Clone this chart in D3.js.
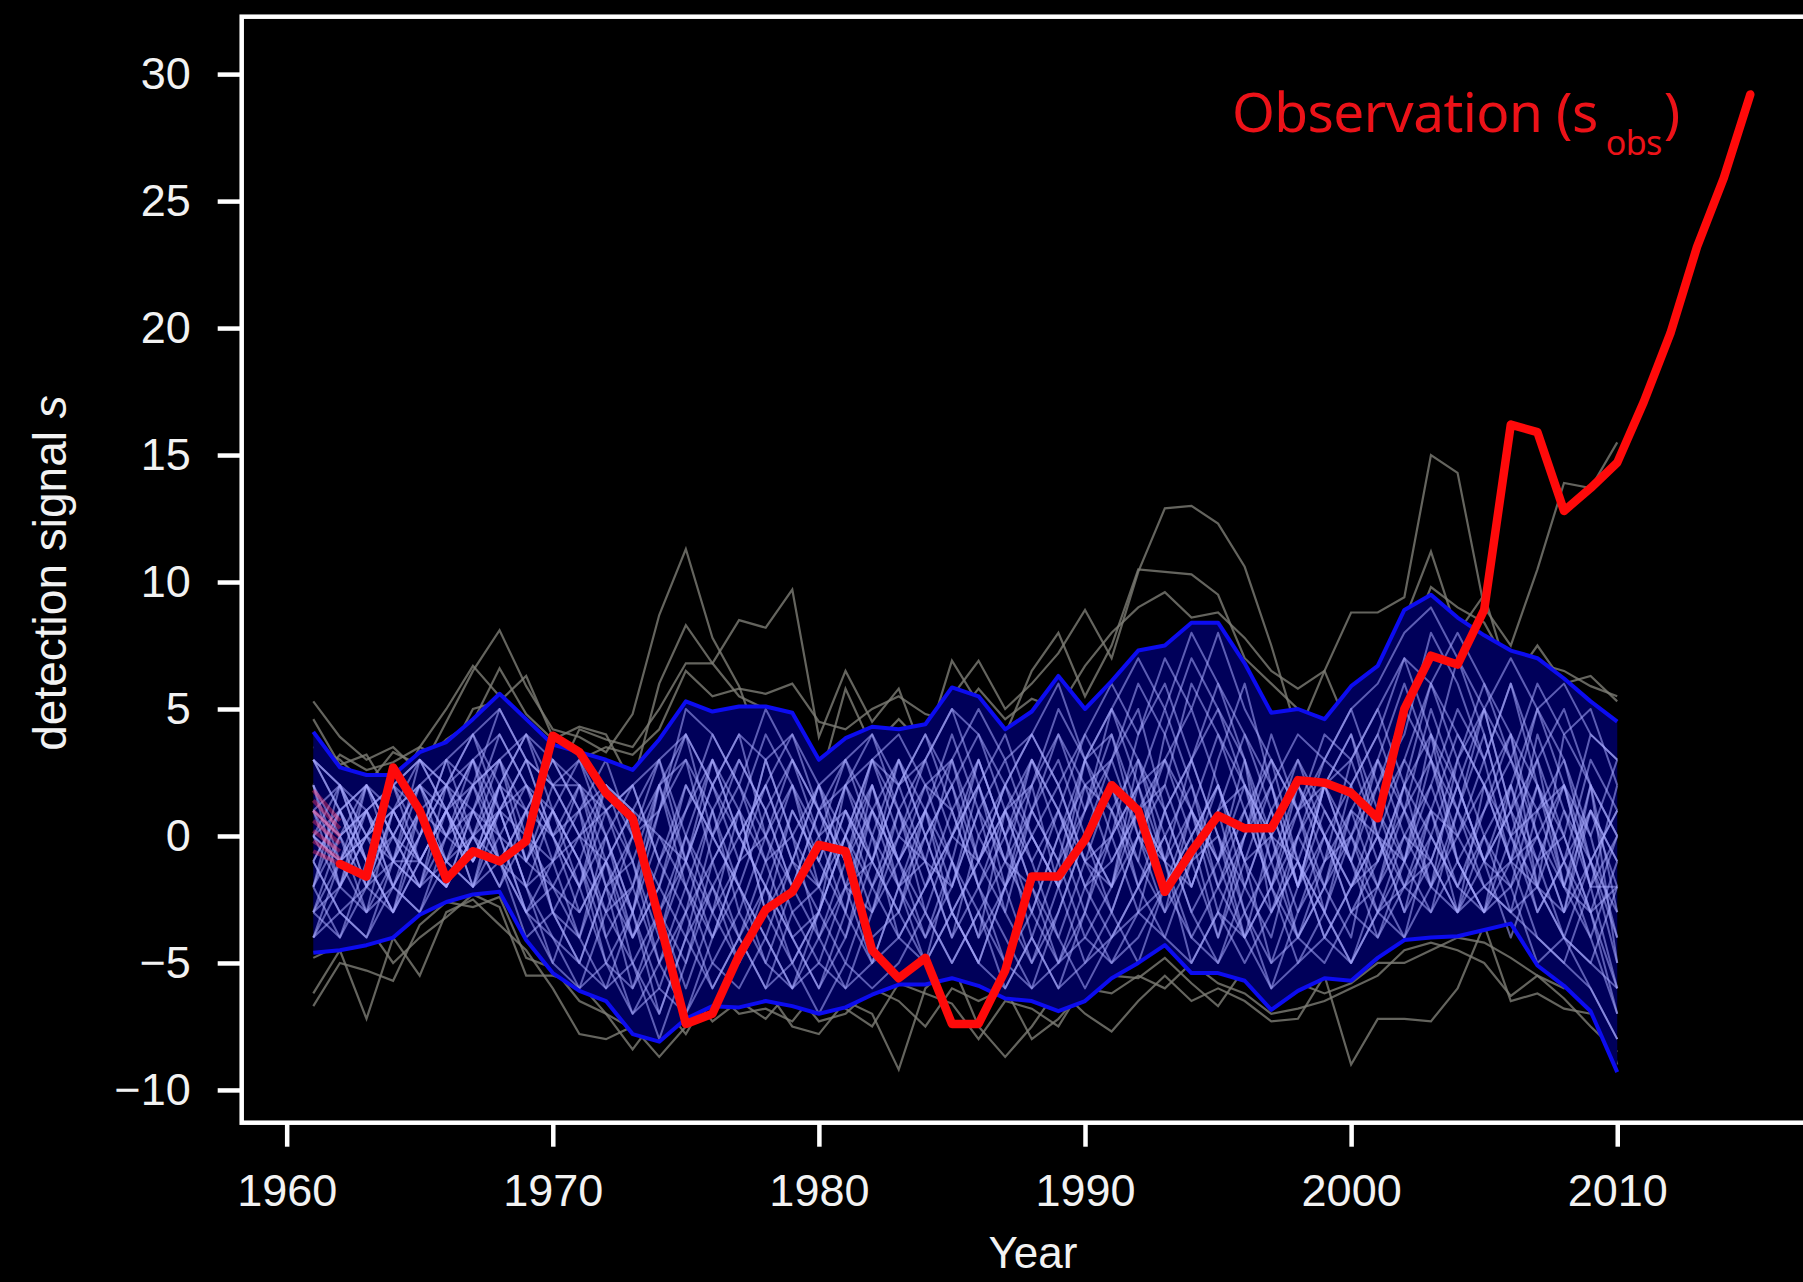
<!DOCTYPE html>
<html>
<head>
<meta charset="utf-8">
<script src="https://cdn.jsdelivr.net/npm/d3@7"></script>
<style>
  html, body { margin: 0; padding: 0; background: #000; }
  svg { display: block; }
</style>
</head>
<body>
<div id="chart"></div>
<script>
// ---- values ----
// model members and envelope cover 1961-2010, the observation 1962-2015
const memberYears = d3.range(1961, 2011);
const obsYears = d3.range(1962, 2016);

const obsValues = [
  -1.1, -1.6, 2.7, 1.0, -1.7, -0.6, -1.0, -0.2, 3.95,
  3.3, 1.7, 0.7, -3.3, -7.4, -7.0, -4.7, -2.9, -2.2, -0.35,
  -0.6, -4.5, -5.6, -4.8, -7.4, -7.4, -5.3, -1.6, -1.6, -0.15,
  2.0, 1.0, -2.2, -0.6, 0.8, 0.3, 0.3, 2.2, 2.1, 1.7,
  0.7, 5.0, 7.1, 6.75, 8.9, 16.2, 15.9, 12.8, 13.7, 14.7,
  17.1, 19.8, 23.2, 25.9, 29.2
];

// faint reddish spread at the very start (1961 -> 1962)
const obsSpread1961 = [1.8, 1.4, 1.0, 0.6, 0.2, -0.2, -0.6];
const obsSpread1962 = [0.6, 0.3, 0.0, -0.3, -0.6, -0.9, -1.1];

const bandUpper = [
  4.1, 2.7, 2.4, 2.4, 3.3, 3.7, 4.6, 5.6, 4.6, 3.6,
  3.3, 3.0, 2.6, 3.8, 5.3, 4.9, 5.1, 5.1, 4.85, 3.0,
  3.85, 4.3, 4.2, 4.4, 5.85, 5.5, 4.2, 4.9, 6.3, 5.0,
  6.1, 7.3, 7.5, 8.4, 8.4, 6.8, 4.85, 5.0, 4.6, 5.9,
  6.7, 8.9, 9.5, 8.6, 7.9, 7.3, 7.0, 6.2, 5.3, 4.5
];
const bandLower = [
  -4.6, -4.5, -4.3, -4.0, -3.1, -2.6, -2.3, -2.2, -4.1, -5.4,
  -6.1, -6.5, -7.8, -8.1, -7.2, -6.7, -6.75, -6.5, -6.7, -7.0,
  -6.75, -6.25, -5.85, -5.85, -5.6, -5.9, -6.4, -6.5, -6.9, -6.5,
  -5.6, -5.0, -4.3, -5.4, -5.4, -5.7, -6.85, -6.1, -5.6, -5.7,
  -4.8, -4.1, -4.0, -3.95, -3.7, -3.45, -5.1, -5.9, -6.9, -9.3
];

// light ensemble members (estimated traces inside the envelope)
const members = [
  [2,-1,1,-2,0,2,1,3,0,-2, -3,-1,-4,-2,1,3,0,2,-1,-3, 0,2,-1,1,3,0,-2,1,4,2, -1,1,3,5,2,-1,-3,0,2,4, 1,3,6,4,2,0,-2,-4,-1,1],
  [-3,-2,0,1,2,0,3,4,2,0, 1,-2,0,2,-1,-4,-2,1,3,0, -3,-5,-2,0,-3,-1,2,0,-2,-5, -3,0,-2,1,4,2,0,-3,-1,1, 3,0,-2,1,5,3,1,-2,2,-3],
  [0,2,-1,-3,-1,1,-1,2,4,1, -1,2,1,-3,-6,-3,1,4,2,-1, 2,0,3,1,-2,2,4,1,-1,3, 5,2,-1,-4,-2,1,3,1,-2,0, -3,-1,2,5,3,6,2,0,-3,-6],
  [-4,-1,2,0,-2,-1,2,0,-3,-4, -5,-2,-6,-4,-1,2,4,0,-3,-5, -2,1,-2,-4,-1,3,0,-3,-5,-2, 0,4,6,3,0,-3,-1,2,0,-3, -1,2,0,-2,1,4,0,-3,1,-1],
  [1,0,-3,1,3,2,4,1,3,2, 0,-3,-2,1,3,1,-3,-5,-2,1, 3,0,-4,-2,1,-2,-5,-3,0,2, 1,-2,0,-3,-5,-2,1,3,1,-1, 2,5,3,0,-2,-3,1,3,0,-4],
  [-2,1,-1,-3,0,3,0,-2,1,3, 2,0,-3,-7,-4,0,-2,-4,-1,2, -1,-4,-3,0,2,4,1,-1,-4,-1, 2,-1,-3,-1,3,6,2,-2,0,2, 4,7,4,1,-1,2,-1,-4,-6,-8],
  [3,1,-2,-1,2,-1,1,4,2,-1, -4,-6,-3,0,-2,-5,-3,0,2,-2, -4,-1,2,4,1,-2,-4,-6,-3,0, -2,0,2,-1,-4,-1,-5,-2,2,4, 0,-2,-1,2,5,1,3,5,2,0],
  [-1,-3,-4,-1,1,-2,0,2,-1,2, 3,1,-1,2,4,0,2,-1,-4,-6, -3,1,3,0,-3,-5,-2,2,4,1, 3,6,4,1,-2,0,4,1,-3,-5, -2,1,3,7,4,0,-3,-1,3,1],
  [0,-2,2,1,-1,1,3,1,-2,-5, -2,1,2,-1,-3,-6,-4,-2,1,-1, 2,4,1,-2,0,3,0,-4,-6,-3, -5,-3,1,3,6,3,-1,-4,-2,1, -2,-4,0,3,6,4,2,-1,-4,-7],
  [-3,0,1,-2,-3,0,2,-1,1,3, 1,-4,-7,-5,-2,1,3,1,-2,0, 1,-2,0,3,5,2,-1,3,1,-2, -4,-2,1,-2,1,-3,-6,-3,0,-2, 1,-1,4,2,-1,1,5,2,-2,2],
  [1,-1,0,2,3,1,-2,0,-3,-1, 0,2,-1,-4,0,3,1,-3,-5,-3, 0,3,2,-1,-4,-2,1,-2,-5,-3, 1,3,0,2,-1,2,-2,0,3,5, 2,4,8,6,3,-1,4,1,-1,-3],
  [-4,-2,1,-1,1,-1,0,-2,0,-3, -1,-3,0,3,-1,2,-1,3,0,-4, -6,-3,-1,-4,-2,1,3,0,2,-1, -3,-5,-2,0,2,-1,2,-1,-4,-2, 0,3,1,-2,0,-3,-2,4,2,-5],
  [2,0,1,-1,-2,0,2,5,3,0, -2,0,2,-1,1,4,2,0,3,1, -2,-1,-3,-5,-1,-3,-6,-4,-1,1, 4,1,2,6,4,1,-2,-5,-3,0, 3,6,3,-1,1,3,0,-2,1,-2],
  [-1,1,-2,0,2,1,-1,1,-2,-4, -6,-3,-5,-8,-5,-2,0,-2,-5,-3, -5,-2,1,-1,-4,0,2,-1,1,4, 2,-2,-4,-1,0,-4,-2,1,2,-1, -4,-1,-3,1,-2,-1,-4,-5,-2,-6],
  [3,2,0,2,0,3,4,2,-1,1, -1,-5,-3,-6,-3,-1,-4,-6,-3,-2, 1,-1,2,4,2,-1,1,3,0,-3, 0,2,5,2,-2,-4,0,2,-1,3, 5,2,-2,0,3,6,3,0,4,3],
  [-2,-4,-1,2,1,-1,-2,1,2,0, 2,-1,1,3,0,-3,-1,2,4,1, -1,2,-2,-5,-3,-1,-3,1,3,0, -2,1,-1,-5,-3,0,3,-1,-3,-5, -3,0,2,-1,-3,2,5,3,-1,-4],
  [0,-1,-3,-2,0,2,0,3,1,-3, -5,-2,-4,-2,2,0,-2,-5,-6,-4, -1,1,-1,2,-1,-4,-2,0,-2,2, 3,5,1,-2,1,4,1,-2,1,-1, -3,-2,1,4,2,-1,-2,1,-2,0],
  [-3,-1,0,1,-1,1,3,0,-1,1, 3,0,-4,-1,2,0,3,1,-2,-4, -2,-5,-2,1,4,1,-3,-5,-2,1, 5,3,-1,1,-3,-5,-3,-1,-4,-2, 0,-3,-1,-3,0,-2,2,-1,1,-1],
  [1,2,-1,-3,1,0,-1,2,4,2, 0,1,-2,2,-2,-4,-1,3,0,-2, 0,-3,1,3,0,2,-1,-3,0,3, 1,-1,4,7,5,2,-1,1,3,2, -1,1,-2,3,0,2,-2,-4,-5,-2],
  [-2,0,2,-1,-1,-2,1,-1,-3,-2, -4,-1,-3,1,4,2,0,-2,-4,-6, -4,0,-2,-1,3,-1,1,-2,-4,-6, -4,-2,0,-3,-1,1,-2,-4,-1,0, -2,0,-1,2,-1,-2,0,2,0,3],
  [0,1,-1,0,-2,1,-1,1,3,0, -2,-5,-6,-3,-5,-1,1,-1,2,0, 3,1,-1,-3,-5,-3,-1,1,-1,-4, -2,3,1,3,0,-2,-4,0,-2,2, 4,1,5,2,-1,-4,-1,0,-3,0],
  [2,-2,0,-2,1,2,-1,1,0,-1, 1,2,0,-2,-4,-2,-5,-3,-1,2, 0,-2,-4,-2,0,-1,2,4,2,-1, 0,-3,-2,0,-4,0,2,-2,2,3, 0,-1,1,-3,-1,1,-3,-1,-3,-7],
  [-1,-3,-2,1,-1,-2,0,1,-2,-1, 2,-2,-1,-5,-7,-4,-1,0,-2,1, -1,3,0,2,1,3,0,2,5,3, 0,2,-2,-1,2,-1,0,3,0,-2, -1,2,6,3,5,1,-1,2,-1,1],
  [1,0,-2,1,2,0,1,-1,1,0, -3,-1,1,-3,-1,-3,-5,-2,-4,-3, 2,-1,-3,1,-3,-5,-2,0,-2,0, -3,0,3,1,-1,3,0,-4,-2,-4, 1,-2,0,-2,-3,-1,2,-2,-3,-2],
  [3,2,1,2,3,2,4,5,3,2, 2,1,2,3,4,2,4,3,4,2, 3,4,2,3,5,4,2,4,6,3, 5,7,5,8,6,4,2,4,3,5, 6,8,9,7,5,7,5,6,4,3],
  [-4,-3,-4,-2,-3,-1,-2,-1,-3,-5, -6,-5,-7,-6,-7,-5,-6,-4,-6,-5, -6,-5,-4,-5,-3,-5,-6,-4,-6,-5, -4,-3,-4,-5,-3,-4,-6,-5,-4,-5, -3,-4,-2,-3,-2,-3,-4,-5,-6,-8],
  [1,-2,-3,-1,-2,2,3,-1,-2,1, -1,-4,-2,-5,-3,1,-2,-4,-6,-3, 0,3,1,-3,0,2,-2,-5,-3,0, 3,0,-3,1,-1,-4,-2,2,0,-3, -2,2,4,-1,-3,0,3,-2,-4,-1],
  [-2,2,0,-1,3,1,-2,2,1,-3, -4,0,-3,2,3,-1,1,-3,1,-1, -3,2,-1,1,-1,-4,1,2,-2,3, 4,0,-1,3,5,3,-3,-1,2,-1, 3,1,-1,-3,2,4,-2,-3,-1,-5],
  [3,1,2,0,2,3,2,3,4,3, 1,3,0,1,5,4,2,5,3,1, 2,3,4,2,3,5,3,4,2,4, 6,4,7,5,8,5,3,1,4,3, 5,7,6,8,6,3,6,4,5,2],
  [-3,-4,-2,-3,-1,-2,0,-1,-4,-3, -5,-6,-5,-7,-4,-6,-4,-6,-5,-7, -5,-6,-5,-3,-5,-3,-5,-6,-5,-4, -5,-4,-2,-4,-5,-3,-5,-4,-5,-3, -4,-2,-3,-1,-3,-2,-5,-4,-5,-6],
  [-1,1,2,0,-1,1,2,3,-1,-2, 0,-1,-5,-3,0,-2,-4,-1,0,2, -2,-3,0,-1,-2,1,-1,-2,1,-2, -1,1,-1,-2,1,2,0,-1,-3,1, 0,-3,1,0,2,-1,0,-3,2,0],
  [0,-1,1,2,-1,-2,1,0,2,1, -2,2,1,0,-1,3,0,2,-1,-2, 1,-1,3,0,2,-2,0,3,1,-1, -2,2,3,0,2,-2,1,-2,2,0, 2,-1,3,1,4,0,1,2,-2,-2]
];

// grey members that leave the envelope
const outliers = [
  [5.3,3.9,3.0,3.5,2.5,4.5,6.5,8.1,5.9,4.2, 3.9,3.3,4.8,8.7,11.3,7.8,5.9,3.0,1.0,-1.0, 2.0,0.0,-2.0,1.0,3.0,1.5,-1.0,0.5,2.5,1.0, -1.0,1.0,3.0,0.0,-2.0,1.0,3.0,0.0,-2.0,-1.0, 1.0,3.0,2.0,0.0,-1.0,2.0,0.0,-2.0,1.0,0.0],
  [4.6,2.8,3.2,1.5,3.5,5.0,6.7,5.5,3.0,2.0, 4.2,3.8,3.5,5.0,6.8,6.8,8.5,8.2,9.7,3.9, 6.5,4.5,5.8,3.0,5.5,6.9,5.0,6.0,7.2,8.9, 7.0,10.4,12.9,13.0,12.3,10.6,7.5,4.0,6.5,8.8, 8.8,9.4,15.0,14.3,9.0,7.5,10.5,13.9,13.7,15.5],
  [3.5,3.0,2.0,3.3,2.8,3.8,4.5,6.6,4.8,3.8, 4.3,4.0,2.0,6.0,8.3,6.8,5.5,5.0,3.0,2.0, 5.8,3.5,4.6,3.5,6.9,5.2,4.0,6.5,8.0,5.5, 7.5,10.5,10.4,10.3,9.5,7.0,6.0,5.0,4.5,5.5, 6.0,8.5,11.2,8.0,9.5,6.0,7.5,6.0,6.3,5.3],
  [-6.2,-4.5,-7.2,-4.0,-5.5,-3.0,-2.5,-3.5,-4.5,-6.0, -7.8,-8.0,-7.5,-8.7,-7.5,-6.0,-4.0,-6.0,-7.5,-7.8, -6.5,-7.0,-9.2,-6.0,-5.0,-7.5,-8.7,-7.5,-6.0,-7.0, -7.7,-6.5,-5.5,-6.5,-6.0,-6.5,-7.3,-7.2,-5.5,-9.0, -7.2,-7.2,-7.3,-6.0,-3.5,-6.5,-6.2,-6.8,-7.0,-8.0],
  [-6.7,-5.0,-5.3,-5.7,-3.5,-2.6,-2.8,-2.4,-4.8,-5.2, -6.5,-7.0,-8.4,-7.0,-6.0,-7.3,-6.5,-7.2,-6.0,-7.3, -7.0,-6.0,-6.5,-7.5,-6.0,-6.5,-6.0,-8.0,-7.2,-6.0, -6.2,-5.5,-6.0,-5.0,-5.8,-6.2,-7.0,-6.8,-6.5,-6.0, -5.5,-4.5,-4.2,-4.5,-5.0,-6.3,-5.5,-6.0,-5.5,-9.0],
  [2.0,3.2,2.6,2.9,3.5,3.0,5.0,5.3,6.3,3.9, 3.0,3.5,3.2,4.2,6.5,5.5,5.8,5.6,6.0,4.5, 4.2,5.0,5.5,4.8,4.5,5.8,4.6,5.4,5.0,6.7, 8.0,9.0,9.6,8.6,8.8,7.8,6.5,5.8,6.5,4.0, 6.5,7.2,9.8,9.0,8.4,6.5,6.8,6.5,5.9,5.5],
  [-4.8,-4.3,-3.5,-5.0,-4.0,-3.2,-2.3,-2.8,-5.5,-5.5, -5.8,-7.0,-7.6,-6.5,-7.8,-6.0,-7.0,-6.8,-7.3,-6.0, -6.8,-7.5,-5.8,-6.2,-6.6,-8.0,-6.5,-6.8,-7.5,-5.8, -5.5,-5.6,-4.8,-5.8,-6.7,-5.2,-6.5,-5.8,-6.2,-5.8, -5.0,-5.0,-4.5,-4.0,-4.2,-4.8,-5.5,-6.4,-7.5,-8.5]
];

const xTicks = [1960, 1970, 1980, 1990, 2000, 2010];
const yTicks = [-10, -5, 0, 5, 10, 15, 20, 25, 30];
const yTickLabels = ["\u221210", "\u22125", "0", "5", "10", "15", "20", "25", "30"];

// ---- drawing ----
const width = 1803, height = 1282;
// plot box (the right edge falls just outside the picture, as in the source)
const box = { left: 241.7, top: 16.7, right: 1824, bottom: 1122.7 };
const tickFont = "'Liberation Sans', Arial, sans-serif";

const x = d3.scaleLinear().domain([1958.31, 2017.77]).range([box.left, box.right]);
const y = d3.scaleLinear().domain([-11.29, 32.26]).range([box.bottom, box.top]);

const svg = d3.select("#chart")
    .append("svg")
    .attr("width", width)
    .attr("height", height);

svg.append("rect")
    .attr("width", width)
    .attr("height", height)
    .attr("fill", "#000");

svg.append("clipPath")
    .attr("id", "plot-clip")
    .append("rect")
    .attr("x", box.left)
    .attr("y", box.top)
    .attr("width", box.right - box.left)
    .attr("height", box.bottom - box.top);

const plot = svg.append("g").attr("clip-path", "url(#plot-clip)");

const memberLine = d3.line()
    .x((d, i) => x(memberYears[i]))
    .y(d => y(d));

// grey members sit underneath the envelope
plot.selectAll(".outlier")
    .data(outliers)
    .join("path")
    .attr("class", "outlier")
    .attr("d", memberLine)
    .attr("fill", "none")
    .attr("stroke", "#7d7d76")
    .attr("stroke-width", 2.2)
    .attr("stroke-opacity", 0.8);

// envelope fill
const band = d3.area()
    .x((d, i) => x(memberYears[i]))
    .y0((d, i) => y(bandLower[i]))
    .y1(d => y(d));

plot.append("path")
    .datum(bandUpper)
    .attr("d", band)
    .attr("fill", "#00005a");

// light ensemble members
plot.selectAll(".member")
    .data(members)
    .join("path")
    .attr("class", "member")
    .attr("d", memberLine)
    .attr("fill", "none")
    .attr("stroke", "#a8aaff")
    .attr("stroke-width", 2)
    .attr("stroke-opacity", 0.55)
    .attr("stroke-linejoin", "round");

// envelope edges
[bandUpper, bandLower].forEach(edge => {
    plot.append("path")
        .datum(edge)
        .attr("d", memberLine)
        .attr("fill", "none")
        .attr("stroke", "#0c0cf0")
        .attr("stroke-width", 4)
        .attr("stroke-linejoin", "round");
});

// faint red start
const seg = d3.line().x(d => x(d[0])).y(d => y(d[1]));
obsSpread1961.forEach((v, i) => {
    plot.append("path")
        .attr("d", seg([[1961, v], [1962, obsSpread1962[i]]]))
        .attr("fill", "none")
        .attr("stroke", "#ff3a6a")
        .attr("stroke-width", 4)
        .attr("stroke-opacity", 0.4);
});

// observation
plot.append("path")
    .datum(obsValues)
    .attr("d", d3.line().x((d, i) => x(obsYears[i])).y(d => y(d)))
    .attr("fill", "none")
    .attr("stroke", "#ff0a0a")
    .attr("stroke-width", 8.5)
    .attr("stroke-linejoin", "round")
    .attr("stroke-linecap", "round");

// axes
svg.append("g")
    .attr("transform", `translate(${box.left},0)`)
    .call(d3.axisLeft(y).tickValues(yTicks).tickFormat((d, i) => yTickLabels[i]).tickSize(24).tickPadding(27))
    .call(g => g.select(".domain").remove())
    .call(g => g.selectAll(".tick line").attr("stroke", "#fff").attr("stroke-width", 4.5))
    .call(g => g.selectAll(".tick text").attr("fill", "#f2f2f2")
        .attr("font-size", 45).attr("font-family", tickFont));

svg.append("g")
    .attr("transform", `translate(0,${box.bottom})`)
    .call(d3.axisBottom(x).tickValues(xTicks).tickFormat(d3.format("d")).tickSize(24).tickPadding(27))
    .call(g => g.select(".domain").remove())
    .call(g => g.selectAll(".tick line").attr("stroke", "#fff").attr("stroke-width", 4.5))
    .call(g => g.selectAll(".tick text").attr("fill", "#f2f2f2")
        .attr("font-size", 45).attr("font-family", tickFont));

// spines
svg.append("rect")
    .attr("x", box.left)
    .attr("y", box.top)
    .attr("width", box.right - box.left)
    .attr("height", box.bottom - box.top)
    .attr("fill", "none")
    .attr("stroke", "#fff")
    .attr("stroke-width", 4.5);

// axis titles
svg.append("text")
    .attr("x", 1033)
    .attr("y", 1268)
    .attr("text-anchor", "middle")
    .attr("fill", "#f2f2f2")
    .attr("font-size", 44)
    .attr("font-family", tickFont)
    .text("Year");

const yTitle = svg.append("text")
    .attr("transform", "translate(66, 573) rotate(-90)")
    .attr("text-anchor", "middle")
    .attr("fill", "#f2f2f2")
    .attr("font-size", 46)
    .attr("font-family", tickFont);
yTitle.append("tspan").text("detection signal ");
yTitle.append("tspan").attr("font-style", "italic").text("s");

// observation label
const obsLabel = svg.append("text")
    .attr("x", 1232)
    .attr("y", 131.7)
    .attr("fill", "#ec1218")
    .attr("font-size", 55)
    .attr("letter-spacing", -0.6)
    .attr("font-family", "'Noto Sans', 'Open Sans', sans-serif");
obsLabel.append("tspan").text("Observation (s");
obsLabel.append("tspan").attr("font-size", 34).attr("dx", 8).attr("dy", 23).text("obs");
obsLabel.append("tspan").attr("font-size", 55).attr("dx", 2).attr("dy", -23).text(")");
</script>
</body>
</html>
